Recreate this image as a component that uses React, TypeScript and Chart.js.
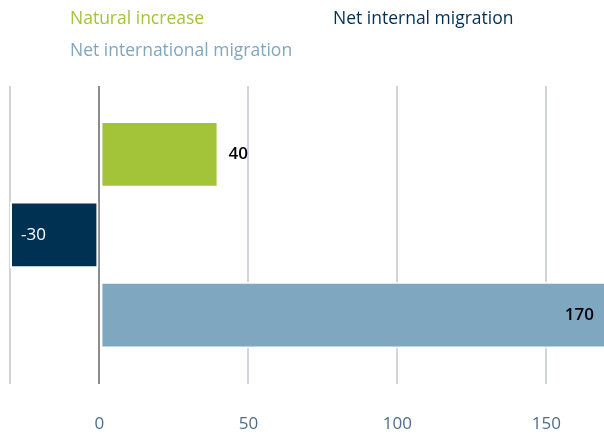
import React, { useEffect, useRef } from "react";
import { Chart, registerables } from "chart.js";

Chart.register(...registerables);

const categories = [""];
const seriesNames = ["Natural increase", "Net internal migration", "Net international migration"];
const seriesValues = [40, -30, 170];
const seriesColors = ["#A3C439", "#003152", "#7FA7BF"];
const insideLabelColors = ["#000000", "#ffffff", "#000000"];
const xTickValues = [0, 50, 100, 150];
const xMin = -30;
const xMax = 170;

const FONT = "'Open Sans', 'Noto Sans', sans-serif";

const gridLegend = {
  id: "gridLegend",
  afterDraw(chart: any) {
    const { ctx } = chart;
    const left = 70;
    const colWidth = 263;
    const top = 19;
    const rowHeight = 32;
    ctx.save();
    ctx.font = `17.5px ${FONT}`;
    ctx.textBaseline = "middle";
    ctx.textAlign = "left";
    chart.data.datasets.forEach((ds: any, i: number) => {
      ctx.fillStyle = ds.backgroundColor;
      ctx.fillText(ds.label, left + (i % 2) * colWidth, top + Math.floor(i / 2) * rowHeight);
    });
    ctx.restore();
  },
};

const valueLabels = {
  id: "valueLabels",
  afterDatasetsDraw(chart: any) {
    const { ctx, chartArea } = chart;
    const offset = 10;
    ctx.save();
    ctx.font = `600 17px ${FONT}`;
    ctx.textBaseline = "middle";
    chart.data.datasets.forEach((ds: any, i: number) => {
      const meta = chart.getDatasetMeta(i);
      meta.data.forEach((el: any, j: number) => {
        const v = ds.data[j];
        const text = String(v);
        const w = ctx.measureText(text).width;
        const { x, y } = el.getProps(["x", "y"], true);
        const right = Math.min(chartArea.right, chart.width - 2);
        if (v >= 0) {
          if (x + offset + w > right) {
            ctx.textAlign = "right";
            ctx.fillStyle = insideLabelColors[i];
            ctx.fillText(text, Math.min(x, right) - offset, y);
          } else {
            ctx.textAlign = "left";
            ctx.fillStyle = "#000000";
            ctx.fillText(text, x + offset, y);
          }
        } else {
          if (x - offset - w < chartArea.left) {
            ctx.textAlign = "left";
            ctx.fillStyle = insideLabelColors[i];
            ctx.font = `17px ${FONT}`;
            ctx.fillText(text, x + offset + 1, y);
            ctx.font = `600 17px ${FONT}`;
          } else {
            ctx.textAlign = "right";
            ctx.fillStyle = "#000000";
            ctx.fillText(text, x - offset, y);
          }
        }
      });
    });
    ctx.restore();
  },
};

export default function App() {
  const ref = useRef<HTMLCanvasElement | null>(null);

  useEffect(() => {
    if (!ref.current) return;
    const chart = new Chart(ref.current, {
      type: "bar",
      data: {
        labels: categories,
        datasets: seriesNames.map((name, i) => ({
          label: name,
          data: [seriesValues[i]],
          backgroundColor: seriesColors[i],
          borderColor: "#ffffff",
          borderWidth: 2,
          borderSkipped: false,
          categoryPercentage: 0.81,
          barPercentage: 0.83,
        })),
      },
      options: {
        indexAxis: "y",
        animation: false,
        responsive: true,
        maintainAspectRatio: false,
        layout: { padding: { left: 10, right: 0, top: 86, bottom: 0 } },
        plugins: {
          legend: { display: false },
          tooltip: { enabled: false },
          title: { display: false },
        },
        scales: {
          x: {
            type: "linear",
            min: xMin,
            max: xMax,
            afterBuildTicks: (axis: any) => {
              axis.ticks = [xMin, ...xTickValues].map((v) => ({ value: v }));
            },
            ticks: {
              autoSkip: false,
              maxRotation: 0,
              padding: 0,
              color: "#4e6d89",
              font: { family: FONT, size: 17 },
              callback: (v: any) => (xTickValues.includes(Number(v)) ? String(v) : ""),
            },
            grid: {
              drawTicks: true,
              tickLength: 30,
              tickColor: "rgba(0,0,0,0)",
              color: (c: any) => (c.tick && c.tick.value === 0 ? "#8c8c8c" : "#d2d6da"),
              lineWidth: 2,
            },
            border: { display: false },
          },
          y: { display: false },
        },
      },
      plugins: [gridLegend, valueLabels],
    });
    return () => chart.destroy();
  }, []);

  return (
    <div style={{ position: "fixed", left: 0, top: 0, width: 606, height: 434 }}>
      <canvas ref={ref} />
    </div>
  );
}
